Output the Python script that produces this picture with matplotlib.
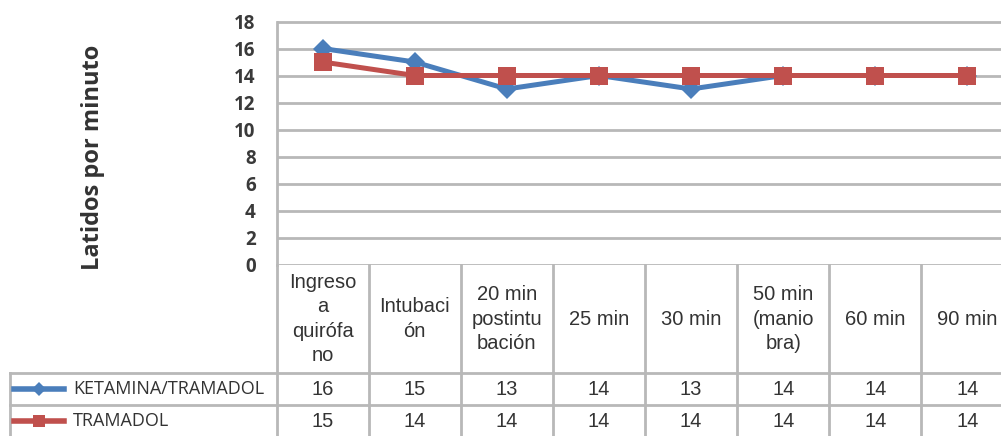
import matplotlib
matplotlib.use("Agg")
import matplotlib.pyplot as plt
from matplotlib.transforms import blended_transform_factory
from matplotlib.lines import Line2D

# Heart-rate readings per moment of the procedure
categories = ["Ingreso\na\nquirófa\nno", "Intubaci\nón", "20 min\npostintu\nbación",
              "25 min", "30 min", "50 min\n(manio\nbra)", "60 min", "90 min"]
series_names = ["KETAMINA/TRAMADOL", "TRAMADOL"]
ketamina_tramadol = [16, 15, 13, 14, 13, 14, 14, 14]
tramadol = [15, 14, 14, 14, 14, 14, 14, 14]
y_ticks = [0, 2, 4, 6, 8, 10, 12, 14, 16, 18]
y_label = "Latidos por minuto"

BLUE = "#4A7EBB"
RED = "#C0504D"
GRID = "#B8B8B8"
TEXT = "#333333"

W, H = 1001, 436
fig = plt.figure(figsize=(W / 100, H / 100), dpi=100)
fig.patch.set_facecolor("white")

def fx(px):
    return px / W

def fy(py):
    return 1 - py / H

# plot area in pixels: left 277, right 1013 (runs past the edge), top 21, bottom 265
left_px, right_px, top_px, bot_px = 276.5, 1013.5, 21.5, 264.5
ax = fig.add_axes([fx(left_px), fy(bot_px), fx(right_px - left_px), (bot_px - top_px) / H])
n = len(categories)
xs = list(range(n))
ax.set_xlim(-0.5, n - 0.5)
ax.set_ylim(0, 18)
ax.set_yticks(y_ticks)
ax.set_yticklabels([str(t) for t in y_ticks], fontfamily="Open Sans", fontsize=13.5,
                   fontweight="bold", color="#3a3a3a")
ax.tick_params(axis="y", length=0, pad=15)
ax.set_xticks([])
for t in y_ticks:
    ax.axhline(t, color=GRID, lw=2, zorder=1)
for s in ["top", "right", "bottom"]:
    ax.spines[s].set_visible(False)
ax.spines["left"].set_color(GRID)
ax.spines["left"].set_linewidth(2)

ax.plot(xs, ketamina_tramadol, color=BLUE, lw=3.6, marker="D", ms=10,
        markeredgewidth=0, zorder=3, clip_on=False)
ax.plot(xs, tramadol, color=RED, lw=3.6, marker="s", ms=13,
        markeredgewidth=0, zorder=4, clip_on=False)

fig.text(fx(93), fy(157), y_label, rotation=90, ha="center", va="center",
         fontfamily="Open Sans", fontweight="bold", fontsize=17, color=TEXT)

# data table under the axis
tr = blended_transform_factory(ax.transData, fig.transFigure)
hdr_top, row1_top, row2_top, tbl_bot = 265, 373, 405, 437
label_left = 10
TFS = 14.5

def hline(y_px, x0_px, x1_px):
    fig.add_artist(Line2D([fx(x0_px), fx(x1_px)], [fy(y_px), fy(y_px)],
                          transform=fig.transFigure, color=GRID, lw=2))

hline(row1_top, label_left, 1013)
hline(row2_top, label_left, 1013)
fig.add_artist(Line2D([fx(label_left), fx(label_left)], [fy(row1_top), fy(tbl_bot)],
                      transform=fig.transFigure, color=GRID, lw=2))
for i in range(n + 1):
    fig.add_artist(Line2D([i - 0.5, i - 0.5], [fy(hdr_top), fy(tbl_bot)],
                          transform=tr, color=GRID, lw=2))

for i, cat in enumerate(categories):
    fig.text(i, fy((hdr_top + row1_top) / 2), cat, transform=tr, ha="center",
             va="center", fontfamily="Liberation Sans", fontsize=TFS, color=TEXT,
             linespacing=1.35)
    fig.text(i, fy((row1_top + row2_top) / 2), str(ketamina_tramadol[i]), transform=tr,
             ha="center", va="center", fontfamily="Liberation Sans", fontsize=TFS,
             color=TEXT)
    fig.text(i, fy((row2_top + tbl_bot) / 2), str(tramadol[i]), transform=tr,
             ha="center", va="center", fontfamily="Liberation Sans", fontsize=TFS,
             color=TEXT)

# legend keys inside the table rows
for row_top, color, marker, ms, name in [(row1_top, BLUE, "D", 7, series_names[0]),
                                          (row2_top, RED, "s", 9, series_names[1])]:
    yc = fy(row_top + 16)
    fig.add_artist(Line2D([fx(14), fx(64)], [yc, yc], transform=fig.transFigure,
                          color=color, lw=4))
    fig.add_artist(Line2D([fx(39)], [yc], transform=fig.transFigure, color=color,
                          marker=marker, ms=ms, markeredgewidth=0))
    fig.text(fx(73), yc, name, ha="left", va="center", fontfamily="Open Sans",
             fontsize=13, color=TEXT)

fig.savefig("out.png", dpi=100, facecolor="white")
